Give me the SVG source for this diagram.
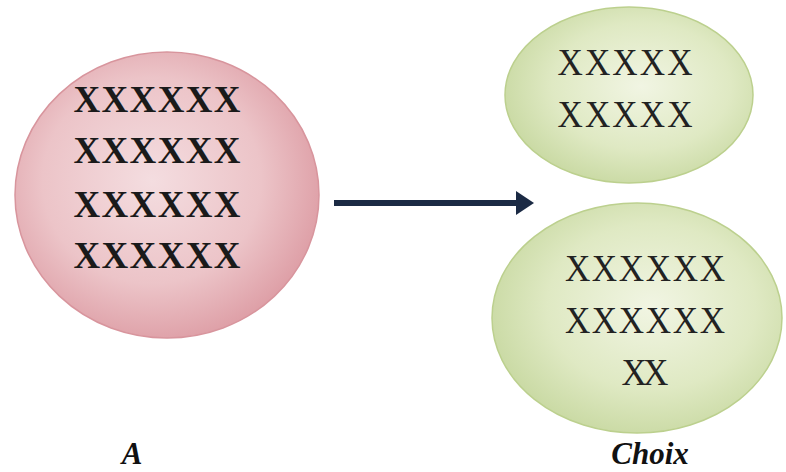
<svg xmlns="http://www.w3.org/2000/svg" width="786" height="472" viewBox="0 0 786 472">
<defs>
<radialGradient id="gPink" cx="0.45" cy="0.45" r="0.6">
<stop offset="0" stop-color="#f4dde0"/>
<stop offset="0.6" stop-color="#ecc4c8"/>
<stop offset="1" stop-color="#dc9aa2"/>
</radialGradient>
<radialGradient id="gGreen" cx="0.55" cy="0.45" r="0.6">
<stop offset="0" stop-color="#f1f5e3"/>
<stop offset="0.6" stop-color="#dfe9c3"/>
<stop offset="1" stop-color="#c7d8a0"/>
</radialGradient>
<marker id="ah" markerWidth="4" markerHeight="4" refX="1" refY="2" orient="auto" markerUnits="strokeWidth">
<path d="M0,0 L3,2 L0,4 Z" fill="#1b2a44"/>
</marker>
<style>
.x{font-family:"Liberation Serif","Times New Roman",serif;font-size:37px;fill:#1a1a1a;text-anchor:middle}
.g{font-size:39px;fill:#222}
.b{font-weight:bold}
.lbl{font-family:"Liberation Serif","Times New Roman",serif;font-size:31px;font-weight:bold;font-style:italic;fill:#111;text-anchor:middle}
</style>
</defs>
<rect width="786" height="472" fill="#ffffff"/>
<g id="connectors">
<line x1="334" y1="203" x2="522" y2="203" stroke="#1b2a44" stroke-width="6" marker-end="url(#ah)"/>
</g>
<g id="nodeA">
<ellipse cx="167" cy="195" rx="152" ry="143" fill="url(#gPink)" stroke="#d8959d" stroke-width="1.5"/>
<text class="x b" x="157" y="112" textLength="167">XXXXXX</text>
<text class="x b" x="157" y="163" textLength="167">XXXXXX</text>
<text class="x b" x="157" y="217" textLength="167">XXXXXX</text>
<text class="x b" x="157" y="268" textLength="167">XXXXXX</text>
</g>
<g id="nodeTop">
<ellipse cx="629" cy="95" rx="124" ry="88" fill="url(#gGreen)" stroke="#bcd08e" stroke-width="1.5"/>
<text class="x g" transform="translate(625,75) scale(0.9,1)" x="0" y="0" textLength="150">XXXXX</text>
<text class="x g" transform="translate(625,127) scale(0.9,1)" x="0" y="0" textLength="150">XXXXX</text>
</g>
<g id="nodeBottom">
<ellipse cx="637" cy="318" rx="145" ry="115" fill="url(#gGreen)" stroke="#bcd08e" stroke-width="1.5"/>
<text class="x g" transform="translate(645,281) scale(0.9,1)" x="0" y="0" textLength="178">XXXXXX</text>
<text class="x g" transform="translate(645,333) scale(0.9,1)" x="0" y="0" textLength="178">XXXXXX</text>
<text class="x g" transform="translate(645,385) scale(0.9,1)" x="0" y="0" textLength="52">XX</text>
</g>
<g id="labels">
<text class="lbl" x="132" y="464">A</text>
<text class="lbl" x="650" y="464">Choix</text>
</g>
</svg>
